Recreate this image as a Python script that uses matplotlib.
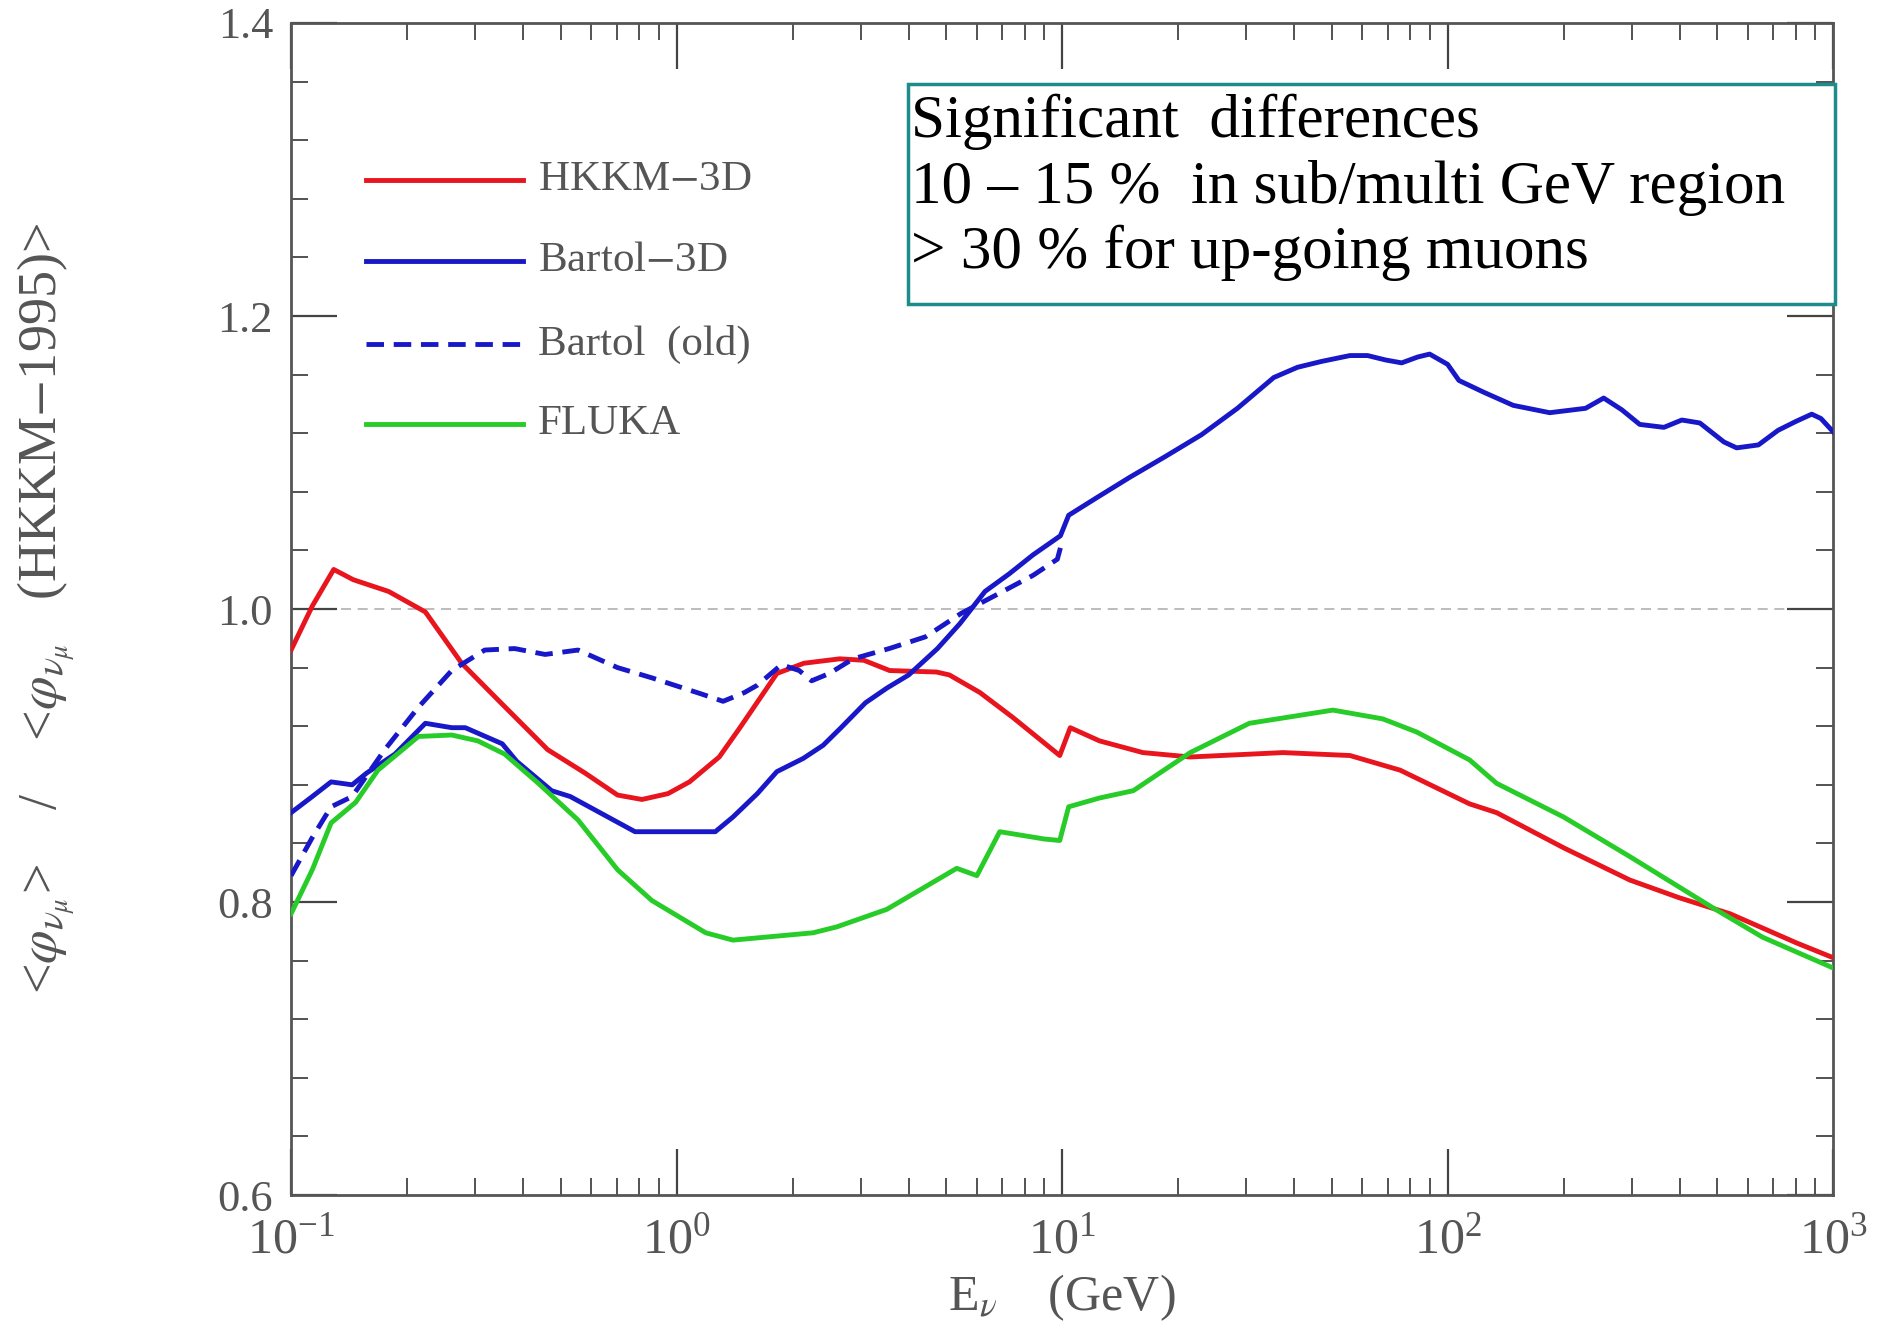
import numpy as np
import matplotlib
matplotlib.use('Agg')
import matplotlib.pyplot as plt
from matplotlib.ticker import MultipleLocator, LogLocator, NullFormatter, FormatStrFormatter
from matplotlib.patches import Rectangle
from matplotlib.lines import Line2D

plt.rcParams['font.family'] = ['Liberation Serif', 'DejaVu Serif']
plt.rcParams['mathtext.fontset'] = 'stix'

# 1. data (E in GeV, flux ratio)
hkkm_e = [0.100, 0.1135, 0.129, 0.145, 0.179, 0.223, 0.277, 0.344, 0.463, 0.579,
          0.703, 0.813, 0.95, 1.08, 1.29, 1.46, 1.82, 2.14, 2.65, 3.06,
          3.57, 4.72, 5.1, 6.12, 7.45, 9.86, 10.5, 12.5, 16.2, 21.5,
          37.4, 55.8, 75.3, 114, 134, 200, 297, 398, 540, 805, 1000]
hkkm_r = [0.972, 1.002, 1.027, 1.020, 1.012, 0.998, 0.963, 0.938, 0.904, 0.888,
          0.873, 0.870, 0.874, 0.882, 0.899, 0.919, 0.956, 0.963, 0.966, 0.965,
          0.958, 0.957, 0.955, 0.943, 0.926, 0.900, 0.919, 0.910, 0.902, 0.899,
          0.902, 0.900, 0.890, 0.867, 0.861, 0.837, 0.815, 0.803, 0.792, 0.772, 0.762]

bartol3d_e = [0.100, 0.1135, 0.127, 0.144, 0.157, 0.186, 0.223, 0.261, 0.283, 0.353,
              0.385, 0.474, 0.53, 0.78, 0.98, 1.26, 1.40, 1.62, 1.82, 2.13,
              2.40, 2.67, 3.09, 3.51, 4.0, 4.75, 5.43, 6.31, 7.29, 8.41,
              9.9, 10.4, 12.3, 15.0, 18.5, 23.0, 28.5, 35.4, 40.8, 47.1,
              55.8, 62.0, 69.0, 76.0, 83.6, 89.8, 100, 107, 124, 148,
              184, 228, 254, 283, 315, 364, 405, 451, 521, 562,
              640, 720, 800, 880, 930, 1000]
bartol3d_r = [0.861, 0.872, 0.882, 0.880, 0.888, 0.901, 0.922, 0.919, 0.919, 0.908,
              0.896, 0.876, 0.872, 0.848, 0.848, 0.848, 0.858, 0.874, 0.889, 0.898,
              0.907, 0.919, 0.936, 0.946, 0.955, 0.973, 0.990, 1.012, 1.024, 1.037,
              1.050, 1.064, 1.076, 1.090, 1.104, 1.119, 1.137, 1.158, 1.165, 1.169,
              1.173, 1.173, 1.170, 1.168, 1.172, 1.174, 1.167, 1.156, 1.148, 1.139,
              1.134, 1.137, 1.144, 1.136, 1.126, 1.124, 1.129, 1.127, 1.114, 1.110,
              1.112, 1.122, 1.128, 1.133, 1.130, 1.121]

bartol_old_e = [0.100, 0.1135, 0.127, 0.144, 0.175, 0.214, 0.261, 0.318, 0.38, 0.456,
                0.555, 0.703, 0.863, 1.16, 1.32, 1.50, 1.62, 1.87, 2.08, 2.24,
                2.49, 2.87, 3.56, 4.42, 5.47, 6.79, 8.41, 9.72, 10.0]
bartol_old_r = [0.818, 0.844, 0.865, 0.872, 0.904, 0.933, 0.958, 0.972, 0.973, 0.969,
                0.972, 0.960, 0.953, 0.942, 0.937, 0.943, 0.948, 0.962, 0.958, 0.951,
                0.956, 0.966, 0.973, 0.981, 0.997, 1.010, 1.023, 1.034, 1.046]

fluka_e = [0.100, 0.1135, 0.127, 0.147, 0.168, 0.214, 0.261, 0.305, 0.358, 0.438,
           0.555, 0.703, 0.863, 1.19, 1.40, 2.26, 2.6, 3.51, 5.33, 6.01,
           6.89, 9.0, 9.86, 10.4, 12.5, 15.3, 21.5, 30.6, 50.4, 67.9,
           83.2, 114, 134, 200, 297, 488, 656, 1000]
fluka_r = [0.792, 0.822, 0.854, 0.868, 0.890, 0.913, 0.914, 0.910, 0.901, 0.881,
           0.856, 0.822, 0.801, 0.779, 0.774, 0.779, 0.783, 0.795, 0.823, 0.818,
           0.848, 0.843, 0.842, 0.865, 0.871, 0.876, 0.902, 0.922, 0.931, 0.925,
           0.916, 0.897, 0.881, 0.858, 0.831, 0.796, 0.776, 0.755]

labels = ['HKKM$-$3D', 'Bartol$-$3D', 'Bartol  (old)', 'FLUKA']
colors = ['#e8141e', '#1818c8', '#1818c8', '#28cc28']
styles = ['-', '-', '--', '-']
notes = ['Significant  differences',
         '10 \u2013 15 %  in sub/multi GeV region',
         '> 30 % for up-going muons']

# 2. figure and axes
fig = plt.figure(figsize=(18.84, 13.29), dpi=100)
ax = fig.add_axes([0.1545, 0.1008, 0.8185, 0.8819])
ax.set_xscale('log')
ax.set_xlim(0.1, 1000)
ax.set_ylim(0.6, 1.4)

ax.axhline(1.0, color='#b0b0b0', lw=1.2, ls=(0, (6, 4)), zorder=1)

series = [(hkkm_e, hkkm_r), (bartol3d_e, bartol3d_r), (bartol_old_e, bartol_old_r), (fluka_e, fluka_r)]
lw = 3.5
for (e, r), c, s in zip(series, colors, styles):
    line, = ax.plot(e, r, color=c, lw=lw, ls=s, zorder=3, solid_joinstyle='round')
    if s == '--':
        line.set_dashes((3.6, 2.0))

# 3. hand-placed legend
leg_y = [0.866, 0.797, 0.726, 0.658]
for yy, lab, c, s in zip(leg_y, labels, colors, styles):
    h = Line2D([0.0486, 0.1505], [yy, yy], transform=ax.transAxes, color=c, lw=lw, ls=s)
    if s == '--':
        h.set_dashes((3.6, 2.0))
    ax.add_line(h)
    ax.text(0.160, yy, lab, transform=ax.transAxes, fontsize=31, color='#555555',
            va='center', ha='left')

# 4. ticks and spines
ax.yaxis.set_major_locator(MultipleLocator(0.2))
ax.yaxis.set_minor_locator(MultipleLocator(0.04))
ax.yaxis.set_major_formatter(FormatStrFormatter('%.1f'))
ax.xaxis.set_major_locator(LogLocator(base=10, numticks=10))
ax.xaxis.set_minor_locator(LogLocator(base=10, subs=np.arange(2, 10), numticks=40))
ax.xaxis.set_minor_formatter(NullFormatter())
ax.tick_params(which='both', direction='in', top=True, right=True,
               color='#444444', labelcolor='#555555')
ax.tick_params(which='major', length=33, width=1.6, labelsize=32)
ax.tick_params(which='minor', length=12, width=1.3)
ax.tick_params(axis='y', which='major', pad=13)
ax.tick_params(axis='x', which='major', pad=16, labelsize=36)
for sp in ax.spines.values():
    sp.set_color('#555555')
    sp.set_linewidth(2)

# 5. axis labels
fig.text(0.5637, 0.0233, r'E$_\nu$    (GeV)', fontsize=36, color='#555555',
         ha='center', va='center')
fig.text(0.0244, 0.542,
         r'<$\varphi_{\nu_\mu}$>    /    <$\varphi_{\nu_\mu}$   (HKKM$-$1995)>',
         fontsize=39, color='#555555', rotation=90, ha='center', va='center')

# 6. annotation box
ax.add_patch(Rectangle((0.400, 0.760), 0.601, 0.188, transform=ax.transAxes,
                       facecolor='white', edgecolor='#1f8c8c', lw=2.5,
                       zorder=5, clip_on=False))
for yy, txt in zip([0.9027, 0.8464, 0.791], notes):
    ax.text(0.402, yy, txt, transform=ax.transAxes, fontsize=44, color='black',
            va='baseline', ha='left', zorder=6)

plt.savefig('out.png', dpi=100)
plt.close()
